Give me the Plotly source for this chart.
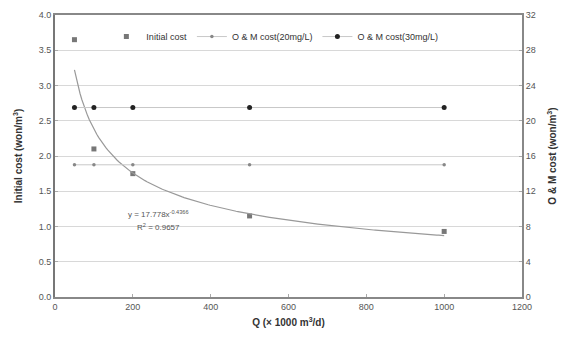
import numpy as np
import plotly.graph_objects as go

Q = [50, 100, 200, 500, 1000]
initial_cost = [3.65, 2.10, 1.75, 1.15, 0.93]
om_20 = [15.0, 15.0, 15.0, 15.0, 15.0]
om_30 = [21.5, 21.5, 21.5, 21.5, 21.5]
fit_a = 17.778
fit_b = -0.4366
fit_r2 = 0.9657

xf = np.linspace(50, 1000, 200)
yf = fit_a * xf ** fit_b

font_family = "Liberation Sans, Arial, sans-serif"
fig = go.Figure()
fig.add_trace(go.Scatter(x=Q, y=initial_cost, mode="markers", name="Initial cost",
                         marker=dict(symbol="square", size=5, color="#777777")))
fig.add_trace(go.Scatter(x=Q, y=om_20, mode="lines+markers", name="O & M cost(20mg/L)", yaxis="y2",
                         line=dict(color="#c8c8c8", width=1),
                         marker=dict(symbol="circle", size=3.5, color="#888888")))
fig.add_trace(go.Scatter(x=Q, y=om_30, mode="lines+markers", name="O & M cost(30mg/L)", yaxis="y2",
                         line=dict(color="#c8c8c8", width=1),
                         marker=dict(symbol="circle", size=5, color="#222222")))
fig.add_trace(go.Scatter(x=xf, y=yf, mode="lines", showlegend=False,
                         line=dict(color="#999999", width=1.2)))

fig.add_annotation(x=267, y=1.18, xref="x", yref="y", showarrow=False,
                   text=f"y = {fit_a}x<sup>{fit_b}</sup>", font=dict(size=8, color="#555555", family=font_family))
fig.add_annotation(x=265, y=1.0, xref="x", yref="y", showarrow=False,
                   text=f"R<sup>2</sup> = {fit_r2}", font=dict(size=8, color="#555555", family=font_family))

fig.update_layout(
    width=567, height=342,
    margin=dict(l=55, r=44, t=10, b=45),
    paper_bgcolor="white", plot_bgcolor="white",
    font=dict(family=font_family, size=9, color="#555555"),
    showlegend=True,
    legend=dict(orientation="h", x=0.11, y=0.975, xanchor="left", yanchor="top",
                bgcolor="rgba(255,255,255,0)", font=dict(size=9, color="#333333"),
                itemwidth=30, tracegroupgap=0),
    xaxis=dict(range=[0, 1200], dtick=200, showgrid=False, zeroline=False,
               showline=True, linecolor="#888888", linewidth=2, mirror=True,
               ticks="inside", ticklen=3, tickcolor="#aaaaaa",
               title=dict(text="<b>Q (× 1000 m<sup>3</sup>/d)</b>", font=dict(size=10, color="#333333"), standoff=8)),
    yaxis=dict(range=[0, 4], dtick=0.5, tickformat=".1f", showgrid=True, gridcolor="#d8d8d8",
               zeroline=False, showline=True, linecolor="#777777", linewidth=2,
               ticks="inside", ticklen=3, tickcolor="#aaaaaa",
               title=dict(text="<b>Initial cost (won/m<sup>3</sup>)</b>", font=dict(size=10, color="#333333"), standoff=14)),
    yaxis2=dict(range=[0, 32], dtick=4, overlaying="y", side="right", showgrid=False,
                zeroline=False, showline=True, linecolor="#888888", linewidth=2,
                ticks="inside", ticklen=3, tickcolor="#aaaaaa",
                title=dict(text="<b>O & M cost (won/m<sup>3</sup>)</b>", font=dict(size=10, color="#333333"), standoff=14)),
)
fig.write_html("out.html")
